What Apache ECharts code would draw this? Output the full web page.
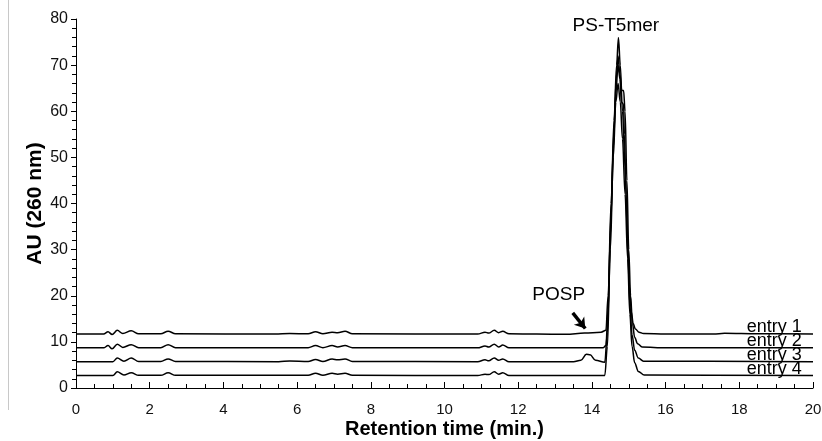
<!DOCTYPE html>
<html><head><meta charset="utf-8">
<script src="https://cdn.jsdelivr.net/npm/echarts@6/dist/echarts.min.js"></script>
<style>html,body{margin:0;padding:0;background:#fff;overflow:hidden}#c{width:822px;height:441px}</style>
</head><body><div id="c"></div>
<script>
const xTicks = [0,2,4,6,8,10,12,14,16,18,20];
const yTicks = [0,10,20,30,40,50,60,70,80];
const entryNames = ['entry 1','entry 2','entry 3','entry 4'];
const entry1 = [[0,11.7],[0.75,11.7],[0.87,12.2],[0.98,11.6],[1.12,12.5],[1.27,11.8],[1.5,12.4],[1.7,11.75],[2.3,11.75],[2.5,12.3],[2.7,11.75],[5.4,11.7],[5.8,11.8],[6.3,11.75],[6.5,12.2],[6.7,11.75],[6.95,12.1],[7.1,12.0],[7.3,12.3],[7.5,11.75],[10.9,11.7],[11.1,12.1],[11.2,11.9],[11.35,12.5],[11.47,12.0],[11.58,12.3],[11.75,11.75],[12.5,11.7],[13.3,11.65],[13.8,11.9],[14.25,12.1],[14.38,12.5],[14.44,20],[14.52,40],[14.6,58],[14.67,70],[14.72,76],[14.77,70],[14.83,60],[14.9,48],[14.96,34],[15.02,22],[15.07,16.5],[15.12,14],[15.18,12.8],[15.28,12.1],[15.4,11.8],[16,11.7],[17.3,11.7],[17.6,11.85],[18.5,11.75],[20,11.7]];
const entry2 = [[0,8.7],[0.75,8.7],[0.87,9.2],[0.98,8.5],[1.12,9.5],[1.27,8.8],[1.5,9.4],[1.7,8.75],[2.3,8.75],[2.5,9.4],[2.7,8.75],[6.3,8.75],[6.5,9.2],[6.7,8.75],[6.95,9.2],[7.1,8.9],[7.3,9.2],[7.5,8.75],[10.9,8.7],[11.1,9.1],[11.2,8.9],[11.35,9.5],[11.47,8.9],[11.58,9.3],[11.75,8.7],[14.3,8.7],[14.38,9.2],[14.44,17],[14.52,38],[14.6,56],[14.66,67],[14.71,72],[14.76,68],[14.81,64.5],[14.86,64.5],[14.9,60],[14.95,45],[15,30],[15.05,20],[15.1,14],[15.16,11],[15.24,9.6],[15.36,8.9],[16,8.7],[20,8.7]];
const entry3 = [[0,5.7],[1.0,5.7],[1.12,6.5],[1.3,5.8],[1.5,6.5],[1.7,5.75],[2.3,5.75],[2.5,6.3],[2.7,5.75],[5.5,5.7],[5.8,5.85],[6.3,5.75],[6.5,6.2],[6.7,5.75],[6.95,6.3],[7.1,6.1],[7.3,6.3],[7.5,5.75],[10.9,5.7],[11.1,6.1],[11.2,5.9],[11.35,6.5],[11.47,6.0],[11.58,6.3],[11.75,5.7],[13.5,5.7],[13.7,6.0],[13.85,7.3],[13.95,7.2],[14.1,6.0],[14.35,5.6],[14.42,12],[14.5,33],[14.58,52],[14.65,64],[14.71,70],[14.76,67],[14.8,62],[14.86,61.5],[14.88,55],[14.93,42],[14.98,28],[15.03,18],[15.09,11.5],[15.16,8.2],[15.26,6.5],[15.4,5.8],[20,5.7]];
const entry4 = [[0,2.7],[1.0,2.7],[1.12,3.5],[1.3,2.8],[1.5,3.3],[1.7,2.75],[2.3,2.75],[2.5,3.3],[2.7,2.75],[6.3,2.75],[6.5,3.2],[6.7,2.75],[6.95,3.2],[7.1,3.0],[7.3,3.2],[7.5,2.75],[10.9,2.7],[11.1,3.0],[11.2,2.9],[11.35,3.5],[11.47,3.0],[11.58,3.3],[11.75,2.7],[14.35,2.7],[14.42,9],[14.5,30],[14.58,50],[14.65,62],[14.71,66],[14.77,62],[14.83,54],[14.9,42],[14.97,28],[15.03,16],[15.09,9],[15.16,5.5],[15.26,3.6],[15.42,2.8],[20,2.7]];
const entries = [entry1, entry2, entry3, entry4];
const entryLabelX = 18.95;
const peakLabel = {text:'PS-T5mer', x:14.65, y:78.5};
const pospLabel = {text:'POSP', x:13.1, y:20.3};
const pospArrow = [[13.48,16.3],[13.82,12.9]];

const font = 'Liberation Sans, Arial, sans-serif';
const chart = echarts.init(document.getElementById('c'), null, {renderer:'canvas', width:822, height:441});
const series = entries.map((d,i)=>({
  type:'line', data:d, smooth:0.35, smoothMonotone:'x', symbol:'none',
  lineStyle:{color:'#000', width:1.5}, z: 3,
  markPoint: {
    symbol:'circle', symbolSize:0, silent:true,
    data:[{coord:[entryLabelX, d[d.length-1][1]], label:{show:true, formatter:entryNames[i], position:'top', distance:-2, fontFamily:font, fontSize:18, color:'#000'}}]
  }
}));
series.push({
  type:'line', data:[], symbol:'none',
  markPoint:{symbol:'circle', symbolSize:0, silent:true, data:[
    {coord:[peakLabel.x, peakLabel.y], label:{show:true, formatter:peakLabel.text, position:'inside', fontFamily:font, fontSize:19, color:'#000'}},
    {coord:[pospLabel.x, pospLabel.y], label:{show:true, formatter:pospLabel.text, position:'inside', fontFamily:font, fontSize:19, color:'#000'}}
  ]},
  markLine:{silent:true, symbol:['none','arrow'], symbolSize:[10,10], lineStyle:{color:'#000', width:3.5, type:'solid'}, label:{show:false},
    data:[[{coord:pospArrow[0]},{coord:pospArrow[1]}]]}
});
chart.setOption({
  animation:false,
  backgroundColor:'#fff',
  grid:{left:76, width:737, top:19, height:369, containLabel:false, outerBoundsMode:'none'},
  graphic:[{type:'line', shape:{x1:8.5,y1:0,x2:8.5,y2:410}, style:{stroke:'#c8c8c8', lineWidth:1}}],
  xAxis:{type:'value', min:xTicks[0], max:xTicks[xTicks.length-1], interval:2,
    name:'Retention time (min.)', nameLocation:'middle', nameGap:31, nameMoveOverlap:false,
    nameTextStyle:{fontFamily:font, fontSize:20, fontWeight:'bold', color:'#000'},
    axisLine:{lineStyle:{color:'#000', width:1}},
    axisTick:{show:true, inside:true, length:6, lineStyle:{color:'#000'}},
    minorTick:{show:true, splitNumber:4, length:4, lineStyle:{color:'#000'}},
    axisLabel:{fontFamily:font, fontSize:15, color:'#111', margin:14},
    splitLine:{show:false}},
  yAxis:{type:'value', min:yTicks[0], max:yTicks[yTicks.length-1], interval:10,
    name:'AU (260 nm)', nameLocation:'middle', nameGap:30, nameRotate:90, nameMoveOverlap:false,
    nameTextStyle:{fontFamily:font, fontSize:21, fontWeight:'bold', color:'#000'},
    axisLine:{show:true, lineStyle:{color:'#000', width:1}},
    axisTick:{show:true, length:5, lineStyle:{color:'#000'}},
    minorTick:{show:true, splitNumber:5, length:4, lineStyle:{color:'#000'}},
    axisLabel:{fontFamily:font, fontSize:16, color:'#111', margin:8},
    splitLine:{show:false}},
  series:series
});
</script></body></html>
